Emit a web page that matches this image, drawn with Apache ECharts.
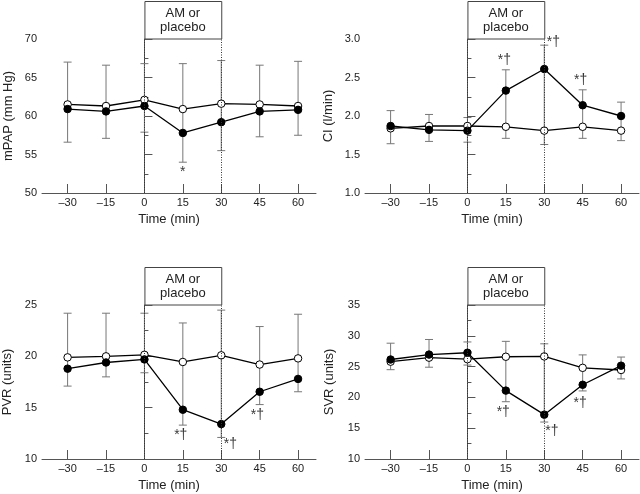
<!DOCTYPE html>
<html>
<head>
<meta charset="utf-8">
<script src="https://cdn.jsdelivr.net/npm/echarts@6/dist/echarts.min.js"></script>
<style>
  html, body { margin: 0; padding: 0; background: #fff; }
  #main { width: 640px; height: 494px; }
</style>
</head>
<body>
<div id="main"></div>
<script>
// time points (min)
var times = [-30, -15, 0, 15, 30, 45, 60];
var tickLabels = ['–30', '–15', '0', '15', '30', '45', '60'];
// infusion start / end (min)
var infusion = [0, 30];

// mPAP (mm Hg)
var mpapPlacebo = [61.5, 61.3, 62.1, 60.9, 61.6, 61.5, 61.3];
var mpapAM = [60.9, 60.6, 61.3, 57.8, 59.2, 60.6, 60.8];
var mpapHigh = [67.0, 66.6, 66.8, 66.8, 67.2, 66.6, 67.1];
var mpapLow = [56.6, 57.1, 57.9, 54.0, 55.5, 57.3, 57.5];
var mpapMarks = [[15, 52.7, '*']];

// CI (l/min)
var ciPlacebo = [1.84, 1.87, 1.87, 1.86, 1.81, 1.86, 1.81];
var ciAM = [1.87, 1.82, 1.81, 2.33, 2.61, 2.14, 2.00];
var ciHigh = [2.07, 2.02, 1.98, 2.60, 2.92, 2.34, 2.18];
var ciLow = [1.64, 1.67, 1.66, 1.71, 1.63, 1.71, 1.68];
var ciMarks = [[14.4, 2.72, '*†'], [33.6, 2.965, '*†'], [44.2, 2.47, '*†']];

// PVR (units)
var pvrPlacebo = [19.9, 20.0, 20.15, 19.45, 20.1, 19.2, 19.8];
var pvrAM = [18.8, 19.4, 19.7, 14.8, 13.4, 16.55, 17.8];
var pvrHigh = [24.2, 24.2, 24.2, 23.25, 24.5, 22.9, 24.1];
var pvrLow = [17.1, 18.0, 18.4, 13.3, 12.1, 15.3, 16.55];
var pvrMarks = [[14.2, 12.3, '*†'], [33.6, 11.4, '*†'], [44.1, 14.25, '*†']];

// SVR (units)
var svrPlacebo = [25.8, 26.45, 26.2, 26.6, 26.65, 24.8, 24.45];
var svrAM = [26.15, 26.95, 27.25, 21.1, 17.2, 22.05, 25.15];
var svrHigh = [28.8, 29.4, 29.0, 29.1, 28.7, 26.9, 26.55];
var svrLow = [24.5, 24.9, 25.25, 19.3, 16.0, 21.05, 23.0];
var svrMarks = [[14.0, 17.6, '*†'], [33.0, 14.5, '*†'], [44.0, 19.1, '*†']];

var FONT = 'Liberation Sans';
var AXIS = '#555';
var TEXT = '#222';

var panels = [
  { name: 'mPAP (mm Hg)', min: 50, max: 70, step: 5, dec: 0, gap: 27,
    left: 42, top: 39, placebo: mpapPlacebo, am: mpapAM, hi: mpapHigh, lo: mpapLow, marks: mpapMarks },
  { name: 'CI (l/min)', min: 1, max: 3, step: 0.5, dec: 1, gap: 30,
    left: 365, top: 39, placebo: ciPlacebo, am: ciAM, hi: ciHigh, lo: ciLow, marks: ciMarks },
  { name: 'PVR (units)', min: 10, max: 25, step: 5, dec: 0, gap: 28,
    left: 42, top: 305, placebo: pvrPlacebo, am: pvrAM, hi: pvrHigh, lo: pvrLow, marks: pvrMarks },
  { name: 'SVR (units)', min: 10, max: 35, step: 5, dec: 0, gap: 29,
    left: 365, top: 305, placebo: svrPlacebo, am: svrAM, hi: svrHigh, lo: svrLow, marks: svrMarks }
];

var chart = echarts.init(document.getElementById('main'));

var grids = [], xAxes = [], yAxes = [], series = [];

panels.forEach(function (p, i) {
  grids.push({ left: p.left, top: p.top, width: 274, height: 154, containLabel: false });

  xAxes.push({
    type: 'value', gridIndex: i, min: -40, max: 67,
    name: 'Time (min)', nameLocation: 'middle', nameGap: 20,
    nameTextStyle: { fontFamily: FONT, fontSize: 13, color: TEXT, padding: [0, 20, 0, 0] },
    splitLine: { show: false },
    axisLine: { lineStyle: { color: AXIS, width: 1 } },
    axisTick: { inside: true, length: 9, customValues: times, lineStyle: { color: AXIS } },
    axisLabel: {
      customValues: times, margin: 4, fontFamily: FONT, fontSize: 11, color: TEXT,
      formatter: function (v) { return tickLabels[times.indexOf(v)]; }
    }
  });

  yAxes.push({
    type: 'value', gridIndex: i, min: p.min, max: p.max, interval: p.step,
    name: p.name, nameLocation: 'middle', nameGap: p.gap, nameRotate: 90,
    nameTextStyle: { fontFamily: FONT, fontSize: 13, color: TEXT },
    splitLine: { show: false },
    axisLine: { show: true, lineStyle: { color: AXIS, width: 1 } },
    axisTick: { inside: true, length: 8, lineStyle: { color: AXIS } },
    minorTick: { show: true, splitNumber: 2, length: 4, lineStyle: { color: AXIS } },
    axisLabel: {
      margin: 5, fontFamily: FONT, fontSize: 11, color: TEXT,
      formatter: function (v) { return v.toFixed(p.dec); }
    }
  });

  // dotted lines at start / end of infusion
  series.push({
    type: 'line', xAxisIndex: i, yAxisIndex: i, silent: true, z: 1,
    data: [], symbol: 'none',
    markLine: {
      silent: true, symbol: 'none', animation: false,
      label: { show: false },
      lineStyle: { color: '#333', width: 1, type: [1, 1.5] },
      data: infusion.map(function (t) {
        return [{ coord: [t, p.min] }, { coord: [t, p.max] }];
      })
    }
  });

  // error bars
  series.push({
    type: 'custom', xAxisIndex: i, yAxisIndex: i, silent: true, z: 2,
    data: times.map(function (t, k) { return [t, p.lo[k], p.hi[k]]; }),
    renderItem: function (params, api) {
      var top = api.coord([api.value(0), api.value(2)]);
      var bot = api.coord([api.value(0), api.value(1)]);
      var st = { stroke: '#777', lineWidth: 1 };
      return {
        type: 'group',
        children: [
          { type: 'line', shape: { x1: top[0], y1: top[1], x2: bot[0], y2: bot[1] }, style: st },
          { type: 'line', shape: { x1: top[0] - 4, y1: top[1], x2: top[0] + 4, y2: top[1] }, style: st },
          { type: 'line', shape: { x1: bot[0] - 4, y1: bot[1], x2: bot[0] + 4, y2: bot[1] }, style: st }
        ]
      };
    }
  });

  // placebo (open circles)
  series.push({
    type: 'line', xAxisIndex: i, yAxisIndex: i, z: 3,
    data: times.map(function (t, k) { return [t, p.placebo[k]]; }),
    symbol: 'circle', symbolSize: 7.5,
    itemStyle: { color: '#fff', borderColor: '#000', borderWidth: 1 },
    lineStyle: { color: '#000', width: 1.3 }
  });

  // AM (filled circles)
  series.push({
    type: 'line', xAxisIndex: i, yAxisIndex: i, z: 4,
    data: times.map(function (t, k) { return [t, p.am[k]]; }),
    symbol: 'circle', symbolSize: 7.5,
    itemStyle: { color: '#000', borderColor: '#000', borderWidth: 1 },
    lineStyle: { color: '#000', width: 1.3 }
  });

  // significance marks
  series.push({
    type: 'scatter', xAxisIndex: i, yAxisIndex: i, z: 5, silent: true,
    symbolSize: 0,
    data: p.marks,
    label: {
      show: true, position: 'inside', fontFamily: FONT, fontSize: 14, color: '#000',
      formatter: function (d) { return d.data[2]; }
    }
  });
});

chart.setOption({
  animation: false,
  grid: grids,
  xAxis: xAxes,
  yAxis: yAxes,
  series: series
});

// "AM or placebo" boxes spanning the infusion period
var graphics = [];
panels.forEach(function (p, i) {
  var a = chart.convertToPixel({ gridIndex: i }, [infusion[0], p.max]);
  var b = chart.convertToPixel({ gridIndex: i }, [infusion[1], p.max]);
  var h = 38;
  graphics.push({
    type: 'rect',
    shape: { x: a[0] + 0.5, y: a[1] - h + 0.5, width: b[0] - a[0], height: h - 0.5 },
    style: { fill: '#fff', stroke: '#444', lineWidth: 1 }
  });
  graphics.push({
    type: 'text',
    x: (a[0] + b[0]) / 2, y: a[1] - h / 2,
    style: {
      text: 'AM or\nplacebo', fontFamily: FONT, fontSize: 13, fill: TEXT,
      align: 'center', verticalAlign: 'middle', lineHeight: 14
    }
  });
});
chart.setOption({ graphic: graphics });
</script>
</body>
</html>
